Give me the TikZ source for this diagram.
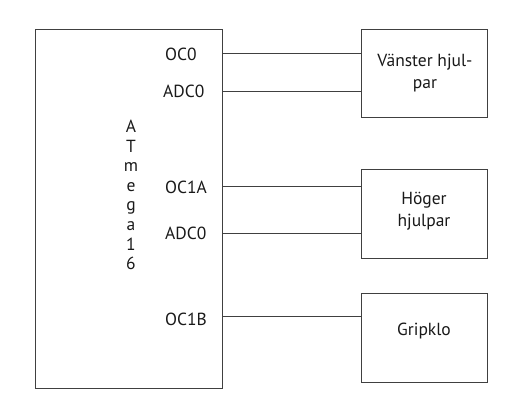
\documentclass[tikz,border=0pt]{standalone}
\usepackage{fontspec}
\setmainfont{PT Sans}
\begin{document}
\begin{tikzpicture}[x=1pt,y=-1pt,
  line/.style={draw=black!75,line width=1pt},
  box/.style={draw=black!75,line width=1pt,inner sep=0pt},
  lbl/.style={font=\fontsize{17.5}{19.6}\selectfont,inner sep=0pt,text=black!90},
  blbl/.style={font=\fontsize{17.5}{22}\selectfont,inner sep=0pt,align=center,text=black!90}]
\useasboundingbox (0,0) rectangle (523,413);
% main block
\node[box,minimum width=187pt,minimum height=359pt] (mcu) at (128.5,208.5) {};
\node[lbl,align=center] (name) at (131,195) {A\\T\\m\\e\\g\\a\\1\\6};
% right boxes
\node[box,minimum width=126pt,minimum height=88pt] (v) at (424,73) {};
\node[box,minimum width=126pt,minimum height=89pt] (h) at (424,213.5) {};
\node[box,minimum width=126pt,minimum height=89pt] (g) at (424,337.5) {};
\node[blbl] at (425,73) {Vänster hjul-\\par};
\node[blbl] at (424,211) {Höger\\hjulpar};
\node[blbl] at (424,331) {Gripklo};
% pin labels
\node[lbl,anchor=west] (p1) at (165,54) {OC0};
\node[lbl,anchor=west] (p2) at (163,91) {ADC0};
\node[lbl,anchor=west] (p3) at (165,187) {OC1A};
\node[lbl,anchor=west] (p4) at (165,233) {ADC0};
\node[lbl,anchor=west] (p5) at (165,319) {OC1B};
% connectors
\coordinate (a1) at (222,53);
\coordinate (a2) at (222,91);
\coordinate (a3) at (222,186);
\coordinate (a4) at (222,233);
\coordinate (a5) at (222,316);
\draw[line] (a1) -- (a1 -| v.west);
\draw[line] (a2) -- (a2 -| v.west);
\draw[line] (a3) -- (a3 -| h.west);
\draw[line] (a4) -- (a4 -| h.west);
\draw[line] (a5) -- (a5 -| g.west);
\end{tikzpicture}
\end{document}
